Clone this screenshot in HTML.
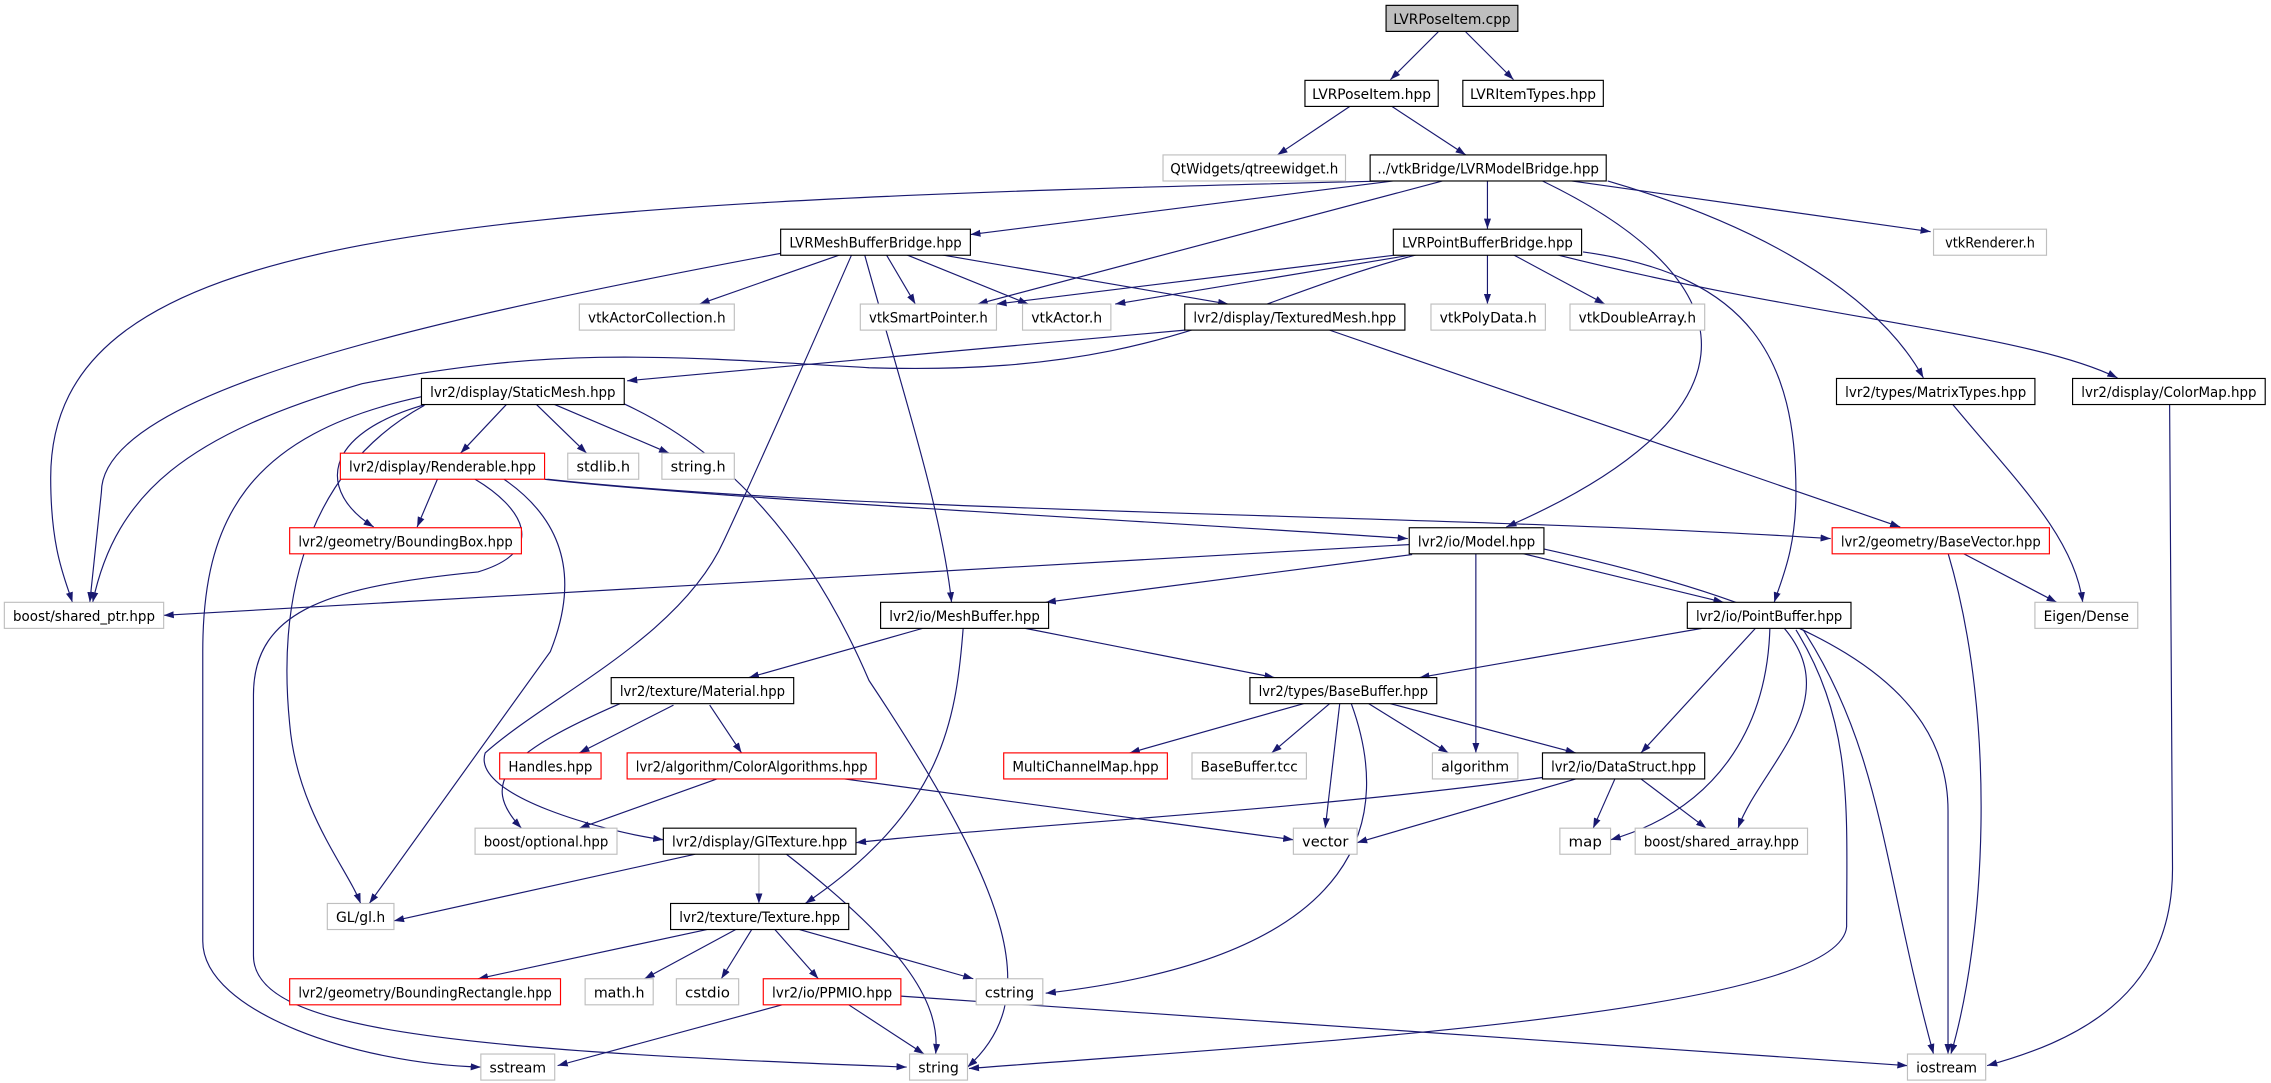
<!DOCTYPE html>
<html><head><meta charset="utf-8"><style>
html,body{margin:0;padding:0;background:#fff;}
svg{display:block;}
text{font-family:"DejaVu Sans","Liberation Sans",sans-serif;font-size:10px;fill:#000;}
.e{fill:none;stroke:#191970;stroke-width:0.8;marker-end:url(#ah);}
.n{fill:#fff;stroke:#000;stroke-width:0.8;}
.g{fill:#fff;stroke:#bfbfbf;stroke-width:0.8;}
.r{fill:#fff;stroke:#ff0000;stroke-width:0.8;}
</style></head><body>
<svg width="2271" height="1083" viewBox="0 0 1568 748" preserveAspectRatio="none" xmlns="http://www.w3.org/2000/svg">
<defs><marker id="ah" viewBox="0 0 10 7" refX="10" refY="3.5" markerUnits="userSpaceOnUse" markerWidth="7" markerHeight="5" orient="auto"><path d="M0,0 L10,3.5 L0,7 z" fill="#191970"/></marker></defs>
<g>
<path class="e" d="M993,22 L960,55"/>
<path class="e" d="M1012,22 L1045,55"/>
<path class="e" d="M932,73.5 L882,107"/>
<path class="e" d="M961,73.5 L1012,107"/>
<path class="e" d="M1085,125 L1333,160"/>
<path class="e" d="M962,125 L670,162"/>
<path class="e" d="M1027,125 L1027,158"/>
<path class="e" d="M996,125 L675,210"/>
<path class="e" d="M958,125 C300,140 35,160 35,330 C35,380 45,400 50,416"/>
<path class="e" d="M1065,125 C1220,200 1210,290 1040,364"/>
<path class="e" d="M1110,125 C1230,160 1300,210 1328,261"/>
<path class="e" d="M580,176 L483,210"/>
<path class="e" d="M612,176 L632,210"/>
<path class="e" d="M626,176 L710,210"/>
<path class="e" d="M650,176 L848,210"/>
<path class="e" d="M539,175 C300,220 70,270 70,340 L62,416"/>
<path class="e" d="M597,176 C620,260 650,350 657,416"/>
<path class="e" d="M588,176 C560,240 520,330 500,373 C470,440 380,480 335,520 C325,550 420,575 458,580"/>
<path class="e" d="M965,176 L688,210"/>
<path class="e" d="M975,176 L770,210"/>
<path class="e" d="M978,176 C850,210 800,260 600,254 C450,245 380,240 250,265 C130,300 80,340 64,416"/>
<path class="e" d="M1027,176 L1027,210"/>
<path class="e" d="M1045,176 L1108,210"/>
<path class="e" d="M1093,174 C1210,190 1240,250 1240,340 C1240,380 1230,400 1225,416"/>
<path class="e" d="M1075,176 C1250,220 1400,230 1462,261"/>
<path class="e" d="M818,228 L433,263"/>
<path class="e" d="M918,228 L1312,364"/>
<path class="e" d="M350,279 L318,313"/>
<path class="e" d="M370,279 L405,313"/>
<path class="e" d="M382,279 L462,313"/>
<path class="e" d="M295,279 C220,300 220,340 258,364"/>
<path class="e" d="M293,280 C220,320 190,400 200,500 C205,560 240,600 249,624"/>
<path class="e" d="M291,274 C170,300 140,360 140,450 L140,650 C140,700 250,735 332,737"/>
<path class="e" d="M431,279 C520,320 570,400 600,470 C700,620 720,690 668,737"/>
<path class="e" d="M302,331 L288,364"/>
<path class="e" d="M376,331 C500,345 800,360 972,372"/>
<path class="e" d="M378,331 C600,355 1000,355 1264,372"/>
<path class="e" d="M348,331 C390,360 400,400 380,450 L255,624"/>
<path class="e" d="M328,331 C360,350 380,380 330,395 C230,405 175,420 175,480 L175,660 C175,710 300,725 626,737"/>
<path class="e" d="M975,376 L113,425"/>
<path class="e" d="M975,383 L722,416"/>
<path class="e" d="M1050,382 L1190,416"/>
<path class="e" d="M1019,382 L1019,520"/>
<path class="e" d="M1065,379 C1250,420 1345,470 1345,560 L1345,728"/>
<path class="e" d="M1355,382 L1420,416"/>
<path class="e" d="M1345,382 C1380,500 1370,650 1347,728"/>
<path class="e" d="M1348,279 C1390,330 1432,370 1438,416"/>
<path class="e" d="M1498,279 L1500,600 C1500,690 1430,720 1372,736"/>
<path class="e" d="M637,434 L517,468"/>
<path class="e" d="M708,434 L880,468"/>
<path class="e" d="M665,434 C660,500 650,560 556,624"/>
<path class="e" d="M1175,434 L980,468"/>
<path class="e" d="M1212,434 L1133,520"/>
<path class="e" d="M1222,434 C1220,503 1185,559 1112,580"/>
<path class="e" d="M1232,434 C1275,485 1215,530 1200,572"/>
<path class="e" d="M1240,435 C1280,500 1275,560 1275,640 C1270,700 900,720 669,738"/>
<path class="e" d="M1245,435 C1300,520 1300,600 1335,728"/>
<path class="e" d="M465,487 L400,520"/>
<path class="e" d="M490,487 L512,520"/>
<path class="e" d="M428,486 C350,520 330,540 360,572"/>
<path class="e" d="M900,486 L780,520"/>
<path class="e" d="M918,486 L878,520"/>
<path class="e" d="M945,486 L1000,520"/>
<path class="e" d="M960,486 L1088,520"/>
<path class="e" d="M925,486 L915,572"/>
<path class="e" d="M933,486 C960,560 950,660 722,686"/>
<path class="e" d="M495,538 L400,572"/>
<path class="e" d="M583,538 L893,580"/>
<path class="e" d="M1065,537 C900,560 700,570 591,582"/>
<path class="e" d="M1088,538 L937,582"/>
<path class="e" d="M1115,538 L1100,572"/>
<path class="e" d="M1133,538 L1178,572"/>
<path class="e" d="M480,590 L272,636"/>
<path class="e" d="M524,590 L524,624" style="stroke:#bfbfbf"/>
<path class="e" d="M543,590 C620,650 650,690 646,728"/>
<path class="e" d="M488,642 L330,676"/>
<path class="e" d="M508,642 L445,676"/>
<path class="e" d="M519,642 L498,676"/>
<path class="e" d="M535,642 L565,676"/>
<path class="e" d="M552,642 L672,676"/>
<path class="e" d="M540,694 L385,736"/>
<path class="e" d="M586,694 L638,728"/>
<path class="e" d="M622,688 L1317,736"/>
</g>
<g>
<rect x="957" y="3.7" width="91" height="18" fill="#bfbfbf" stroke="#000" stroke-width="0.8"/><text x="1002.5" y="16.5" text-anchor="middle" textLength="81" lengthAdjust="spacingAndGlyphs">LVRPoseItem.cpp</text>
<rect class="n" x="901" y="55.5" width="92" height="18"/><text x="947" y="68.3" text-anchor="middle" textLength="82" lengthAdjust="spacingAndGlyphs">LVRPoseItem.hpp</text>
<rect class="n" x="1010" y="55.5" width="97" height="18"/><text x="1058.5" y="68.3" text-anchor="middle" textLength="87" lengthAdjust="spacingAndGlyphs">LVRItemTypes.hpp</text>
<rect class="g" x="803" y="107" width="126" height="18"/><text x="866" y="119.8" text-anchor="middle" textLength="116" lengthAdjust="spacingAndGlyphs">QtWidgets/qtreewidget.h</text>
<rect class="n" x="946" y="107" width="163" height="18"/><text x="1027.5" y="119.8" text-anchor="middle" textLength="153" lengthAdjust="spacingAndGlyphs">../vtkBridge/LVRModelBridge.hpp</text>
<rect class="g" x="1335" y="158.3" width="78" height="18"/><text x="1374" y="171.1" text-anchor="middle" textLength="62" lengthAdjust="spacingAndGlyphs">vtkRenderer.h</text>
<rect class="n" x="539" y="158.3" width="131" height="18"/><text x="604.5" y="171.1" text-anchor="middle" textLength="119" lengthAdjust="spacingAndGlyphs">LVRMeshBufferBridge.hpp</text>
<rect class="n" x="962" y="158.3" width="130" height="18"/><text x="1027" y="171.1" text-anchor="middle" textLength="118" lengthAdjust="spacingAndGlyphs">LVRPointBufferBridge.hpp</text>
<rect class="g" x="400" y="210" width="107" height="18"/><text x="453.5" y="222.8" text-anchor="middle" textLength="95" lengthAdjust="spacingAndGlyphs">vtkActorCollection.h</text>
<rect class="g" x="594" y="210" width="94" height="18"/><text x="641" y="222.8" text-anchor="middle" textLength="82" lengthAdjust="spacingAndGlyphs">vtkSmartPointer.h</text>
<rect class="g" x="706" y="210" width="61" height="18"/><text x="736.5" y="222.8" text-anchor="middle" textLength="49" lengthAdjust="spacingAndGlyphs">vtkActor.h</text>
<rect class="n" x="818" y="210" width="152" height="18"/><text x="894" y="222.8" text-anchor="middle" textLength="140" lengthAdjust="spacingAndGlyphs">lvr2/display/TexturedMesh.hpp</text>
<rect class="g" x="988" y="210" width="79" height="18"/><text x="1027.5" y="222.8" text-anchor="middle" textLength="67" lengthAdjust="spacingAndGlyphs">vtkPolyData.h</text>
<rect class="g" x="1084" y="210" width="93" height="18"/><text x="1130.5" y="222.8" text-anchor="middle" textLength="81" lengthAdjust="spacingAndGlyphs">vtkDoubleArray.h</text>
<rect class="n" x="291" y="261.4" width="140" height="18"/><text x="361" y="274.2" text-anchor="middle" textLength="128" lengthAdjust="spacingAndGlyphs">lvr2/display/StaticMesh.hpp</text>
<rect class="n" x="1268" y="261.4" width="137" height="18"/><text x="1336.5" y="274.2" text-anchor="middle" textLength="125" lengthAdjust="spacingAndGlyphs">lvr2/types/MatrixTypes.hpp</text>
<rect class="n" x="1431" y="261.4" width="133" height="18"/><text x="1497.5" y="274.2" text-anchor="middle" textLength="121" lengthAdjust="spacingAndGlyphs">lvr2/display/ColorMap.hpp</text>
<rect class="r" x="235" y="313" width="141" height="18"/><text x="305.5" y="325.8" text-anchor="middle" textLength="129" lengthAdjust="spacingAndGlyphs">lvr2/display/Renderable.hpp</text>
<rect class="g" x="392" y="313" width="49" height="18"/><text x="416.5" y="325.8" text-anchor="middle" textLength="37" lengthAdjust="spacingAndGlyphs">stdlib.h</text>
<rect class="g" x="457" y="313" width="50" height="18"/><text x="482" y="325.8" text-anchor="middle" textLength="38" lengthAdjust="spacingAndGlyphs">string.h</text>
<rect class="r" x="200" y="364.5" width="160" height="18"/><text x="280" y="377.3" text-anchor="middle" textLength="148" lengthAdjust="spacingAndGlyphs">lvr2/geometry/BoundingBox.hpp</text>
<rect class="n" x="973" y="364.5" width="93" height="18"/><text x="1019.5" y="377.3" text-anchor="middle" textLength="81" lengthAdjust="spacingAndGlyphs">lvr2/io/Model.hpp</text>
<rect class="r" x="1265" y="364.5" width="150" height="18"/><text x="1340" y="377.3" text-anchor="middle" textLength="138" lengthAdjust="spacingAndGlyphs">lvr2/geometry/BaseVector.hpp</text>
<rect class="g" x="3" y="416" width="110" height="18"/><text x="58" y="428.8" text-anchor="middle" textLength="98" lengthAdjust="spacingAndGlyphs">boost/shared_ptr.hpp</text>
<rect class="n" x="608" y="416" width="116" height="18"/><text x="666" y="428.8" text-anchor="middle" textLength="104" lengthAdjust="spacingAndGlyphs">lvr2/io/MeshBuffer.hpp</text>
<rect class="n" x="1165" y="416" width="113" height="18"/><text x="1221.5" y="428.8" text-anchor="middle" textLength="101" lengthAdjust="spacingAndGlyphs">lvr2/io/PointBuffer.hpp</text>
<rect class="g" x="1405" y="416" width="71" height="18"/><text x="1440.5" y="428.8" text-anchor="middle" textLength="59" lengthAdjust="spacingAndGlyphs">Eigen/Dense</text>
<rect class="n" x="422" y="468" width="126" height="18"/><text x="485" y="480.8" text-anchor="middle" textLength="114" lengthAdjust="spacingAndGlyphs">lvr2/texture/Material.hpp</text>
<rect class="n" x="863" y="468" width="129" height="18"/><text x="927.5" y="480.8" text-anchor="middle" textLength="117" lengthAdjust="spacingAndGlyphs">lvr2/types/BaseBuffer.hpp</text>
<rect class="r" x="345" y="520" width="70" height="18"/><text x="380" y="532.8" text-anchor="middle" textLength="58" lengthAdjust="spacingAndGlyphs">Handles.hpp</text>
<rect class="r" x="433" y="520" width="172" height="18"/><text x="519" y="532.8" text-anchor="middle" textLength="160" lengthAdjust="spacingAndGlyphs">lvr2/algorithm/ColorAlgorithms.hpp</text>
<rect class="r" x="693" y="520" width="113" height="18"/><text x="749.5" y="532.8" text-anchor="middle" textLength="101" lengthAdjust="spacingAndGlyphs">MultiChannelMap.hpp</text>
<rect class="g" x="823" y="520" width="79" height="18"/><text x="862.5" y="532.8" text-anchor="middle" textLength="67" lengthAdjust="spacingAndGlyphs">BaseBuffer.tcc</text>
<rect class="g" x="989" y="520" width="59" height="18"/><text x="1018.5" y="532.8" text-anchor="middle" textLength="47" lengthAdjust="spacingAndGlyphs">algorithm</text>
<rect class="n" x="1065" y="520" width="112" height="18"/><text x="1121" y="532.8" text-anchor="middle" textLength="100" lengthAdjust="spacingAndGlyphs">lvr2/io/DataStruct.hpp</text>
<rect class="g" x="328" y="572" width="98" height="18"/><text x="377" y="584.8" text-anchor="middle" textLength="86" lengthAdjust="spacingAndGlyphs">boost/optional.hpp</text>
<rect class="n" x="458" y="572" width="133" height="18"/><text x="524.5" y="584.8" text-anchor="middle" textLength="121" lengthAdjust="spacingAndGlyphs">lvr2/display/GlTexture.hpp</text>
<rect class="g" x="893" y="572" width="44" height="18"/><text x="915" y="584.8" text-anchor="middle" textLength="32" lengthAdjust="spacingAndGlyphs">vector</text>
<rect class="g" x="1077" y="572" width="35" height="18"/><text x="1094.5" y="584.8" text-anchor="middle" textLength="23" lengthAdjust="spacingAndGlyphs">map</text>
<rect class="g" x="1129" y="572" width="119" height="18"/><text x="1188.5" y="584.8" text-anchor="middle" textLength="107" lengthAdjust="spacingAndGlyphs">boost/shared_array.hpp</text>
<rect class="g" x="226" y="624" width="46" height="18"/><text x="249" y="636.8" text-anchor="middle" textLength="34" lengthAdjust="spacingAndGlyphs">GL/gl.h</text>
<rect class="n" x="463" y="624" width="123" height="18"/><text x="524.5" y="636.8" text-anchor="middle" textLength="111" lengthAdjust="spacingAndGlyphs">lvr2/texture/Texture.hpp</text>
<rect class="r" x="200" y="676" width="187" height="18"/><text x="293.5" y="688.8" text-anchor="middle" textLength="175" lengthAdjust="spacingAndGlyphs">lvr2/geometry/BoundingRectangle.hpp</text>
<rect class="g" x="404" y="676" width="47" height="18"/><text x="427.5" y="688.8" text-anchor="middle" textLength="35" lengthAdjust="spacingAndGlyphs">math.h</text>
<rect class="g" x="467" y="676" width="43" height="18"/><text x="488.5" y="688.8" text-anchor="middle" textLength="31" lengthAdjust="spacingAndGlyphs">cstdio</text>
<rect class="r" x="527" y="676" width="95" height="18"/><text x="574.5" y="688.8" text-anchor="middle" textLength="83" lengthAdjust="spacingAndGlyphs">lvr2/io/PPMIO.hpp</text>
<rect class="g" x="674" y="676" width="46" height="18"/><text x="697" y="688.8" text-anchor="middle" textLength="34" lengthAdjust="spacingAndGlyphs">cstring</text>
<rect class="g" x="332" y="728" width="51" height="18"/><text x="357.5" y="740.8" text-anchor="middle" textLength="39" lengthAdjust="spacingAndGlyphs">sstream</text>
<rect class="g" x="628" y="728" width="40" height="18"/><text x="648" y="740.8" text-anchor="middle" textLength="28" lengthAdjust="spacingAndGlyphs">string</text>
<rect class="g" x="1317" y="728" width="54" height="18"/><text x="1344" y="740.8" text-anchor="middle" textLength="42" lengthAdjust="spacingAndGlyphs">iostream</text>
</g>
</svg>
</body></html>
